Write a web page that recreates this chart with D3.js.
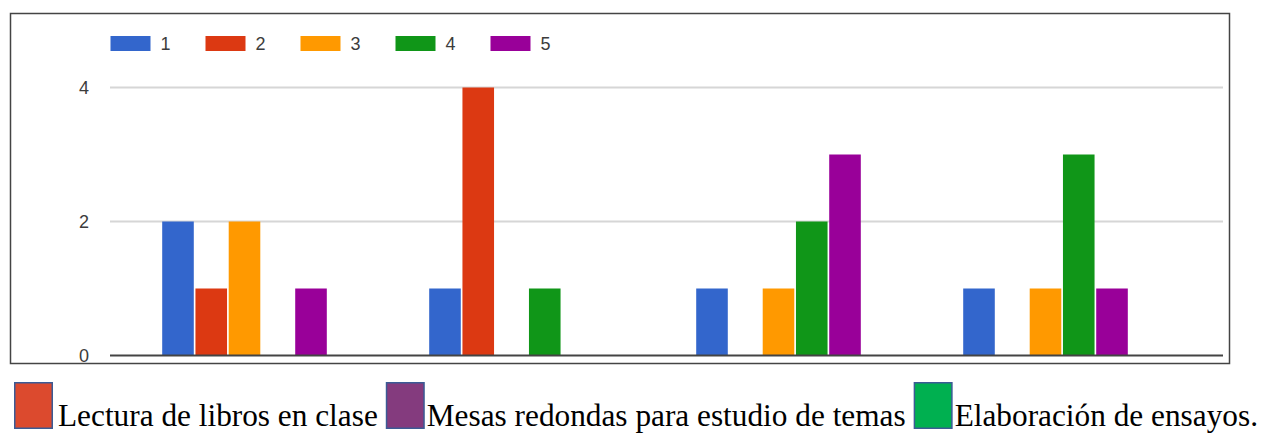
<!DOCTYPE html>
<html>
<head>
<meta charset="utf-8">
<script src="https://cdn.jsdelivr.net/npm/d3@7"></script>
<style>
  html, body { margin: 0; padding: 0; background: #fff; }
  svg { display: block; }
</style>
</head>
<body>
<svg id="chart" width="1263" height="433"></svg>
<script>
// ---- data ----
const categories = ["G1", "G2", "G3", "G4"];
const seriesNames = ["1", "2", "3", "4", "5"];
const series1 = [2, 1, 1, 1];
const series2 = [1, 4, 0, 0];
const series3 = [2, 0, 1, 1];
const series4 = [0, 1, 2, 3];
const series5 = [1, 0, 3, 1];
const seriesColors = ["#3366cc", "#dc3912", "#ff9900", "#109618", "#990099"];
const yTicks = [0, 2, 4];
const noteLabels = ["Lectura de libros en clase", "Mesas redondas para estudio de temas", "Elaboración de ensayos."];
const noteColors = ["#dc4a2e", "#843b7e", "#00b050"];

const seriesValues = [series1, series2, series3, series4, series5];

const svg = d3.select("#chart");

// frame
svg.append("rect")
  .attr("x", 10.5).attr("y", 13.5)
  .attr("width", 1219).attr("height", 350)
  .attr("fill", "#fff").attr("stroke", "#444").attr("stroke-width", 1.5);

const plotLeft = 110, plotRight = 1223;
const y = d3.scaleLinear().domain([0, 4]).range([355.5, 87.5]);

const x0 = d3.scaleBand().domain(categories).range([111, 1179])
  .paddingInner(0.3835).paddingOuter(0.19175);
const x1 = d3.scaleBand().domain(seriesNames).range([0, x0.bandwidth()])
  .paddingInner(0.05);

// gridlines
svg.append("g").selectAll("line")
  .data(yTicks.filter(d => d !== 0))
  .join("line")
  .attr("x1", plotLeft).attr("x2", plotRight)
  .attr("y1", d => y(d)).attr("y2", d => y(d))
  .attr("stroke", "#d6d6d6").attr("stroke-width", 2);

// y axis labels
const yAxis = d3.axisLeft(y).tickValues(yTicks).tickFormat(d3.format("d")).tickSize(0).tickPadding(0);
const yg = svg.append("g").attr("transform", "translate(89,0)").call(yAxis);
yg.select(".domain").remove();
yg.selectAll("text")
  .attr("fill", "#3c3c3c")
  .style("font-family", "'Liberation Sans', Arial, sans-serif")
  .style("font-size", "18px");

// bars
const groups = svg.append("g").selectAll("g")
  .data(categories)
  .join("g")
  .attr("transform", d => `translate(${x0(d)},0)`);

groups.selectAll("rect")
  .data((c, ci) => seriesNames.map((s, si) => ({ s, si, v: seriesValues[si][ci] })).filter(d => d.v > 0))
  .join("rect")
  .attr("x", d => x1(d.s))
  .attr("width", x1.bandwidth())
  .attr("y", d => y(d.v))
  .attr("height", d => y(0) - y(d.v))
  .attr("fill", d => seriesColors[d.si]);

// baseline
svg.append("line")
  .attr("x1", plotLeft).attr("x2", plotRight)
  .attr("y1", y(0)).attr("y2", y(0))
  .attr("stroke", "#444").attr("stroke-width", 2);

// top legend
const legend = svg.append("g").selectAll("g")
  .data(seriesNames)
  .join("g")
  .attr("transform", (d, i) => `translate(${110.5 + i * 95},0)`);
legend.append("rect")
  .attr("x", 0).attr("y", 36).attr("width", 40).attr("height", 15)
  .attr("fill", (d, i) => seriesColors[i]);
legend.append("text")
  .attr("x", 50).attr("y", 50)
  .attr("fill", "#3c3c3c")
  .style("font-family", "'Liberation Sans', Arial, sans-serif")
  .style("font-size", "18px")
  .text(d => d);

// bottom note legend
const note = svg.append("g");
let cx = 14;
noteLabels.forEach((lab, i) => {
  note.append("rect")
    .attr("x", cx + 0.75).attr("y", 382.75)
    .attr("width", 37.5).attr("height", 45.5)
    .attr("fill", noteColors[i])
    .attr("stroke", "#3b5b95").attr("stroke-width", 1.5);
  cx += 39 + (i === 0 ? 5 : 2);
  const t = note.append("text")
    .attr("x", cx).attr("y", 425.5)
    .attr("fill", "#000")
    .style("font-family", "'Liberation Serif', 'Times New Roman', serif")
    .style("font-size", "31.3px")
    .text(lab);
  cx += t.node().getComputedTextLength() + 8;
});
</script>
</body>
</html>
